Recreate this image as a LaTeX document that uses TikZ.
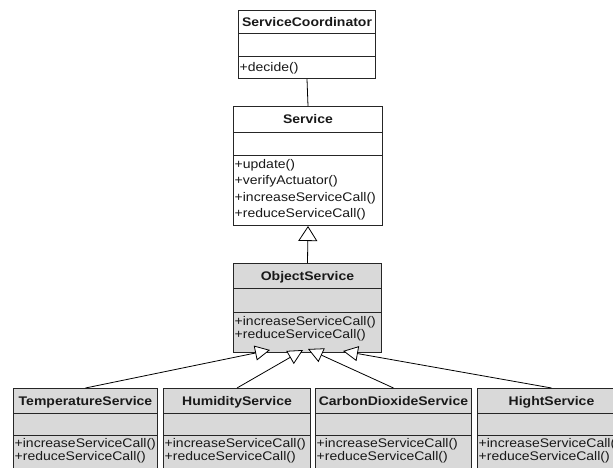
\documentclass[tikz,border=0pt]{standalone}
\usepackage{fontspec}
\setmainfont{Liberation Sans}[FakeStretch=1.12]
\usetikzlibrary{calc,arrows.meta}
\tikzset{
  classbox/.style={draw=black!85, line width=1pt, inner sep=0pt, rectangle},
  divider/.style={draw=black!85, line width=1pt},
  titletext/.style={font=\fontsize{12.5}{15}\selectfont\bfseries, inner sep=0pt, text=black!90},
  methodtext/.style={font=\fontsize{12.5}{15}\selectfont, inner sep=0pt, text=black!90},
  assoc/.style={draw=black, line width=0.8pt},
  gen/.style={draw=black, line width=0.8pt, -{Triangle[open, fill=white, length=15pt, width=15pt]}},
  genbig/.style={draw=black, line width=0.8pt, -{Triangle[open, fill=white, length=15pt, width=19pt]}},
  grayfill/.style={fill=black!15},
  whitefill/.style={fill=white},
}
% #1 name, #2 style, #3 north-west corner, #4 width, #5 height, #6 title, #7 methods
\newcommand\umlbox[7]{%
  \node[classbox,#2,minimum width=#4,minimum height=#5,anchor=north west] (#1) at (#3) {};
  \draw[divider] ($(#1.north west)+(0,\hA)$) -- ($(#1.north east)+(0,\hA)$);
  \draw[divider] ($(#1.north west)+(0,\hB)$) -- ($(#1.north east)+(0,\hB)$);
  \begin{scope}
    \clip (#1.north west) rectangle (#1.south east);
    \pgfmathsetmacro\ty{\hA/2+4.5}
    \node[titletext, anchor=base] (#1-t) at ($(#1.north)+(0,\ty)$) {#6};
    \foreach \m [count=\i] in {#7} {
      \pgfmathsetmacro\yy{\hB+\mfirst+(\i-1)*\pitch}
      \node[methodtext, anchor=base west] (#1-m\i) at ($(#1.north west)+(1.5,\yy)$) {\m};
    }
  \end{scope}
}
\begin{document}
\begin{tikzpicture}[x=1pt,y=-1pt]
\useasboundingbox (0,0) rectangle (613,468);
% ServiceCoordinator
\def\hA{24}\def\hB{47}\def\mfirst{15}\def\pitch{16}
\umlbox{sc}{whitefill}{238,10}{137pt}{68pt}{ServiceCoordinator}{+decide()}
% Service
\def\hA{27}\def\hB{50}\def\mfirst{12.5}\def\pitch{16.3}
\umlbox{svc}{whitefill}{233,106}{149pt}{119pt}{Service}{+update(),+verifyActuator(),+increaseServiceCall(),+reduceServiceCall()}
% ObjectService
\def\hA{25}\def\hB{49}\def\mfirst{13}\def\pitch{13.3}
\umlbox{obj}{grayfill}{233,263}{148pt}{89pt}{ObjectService}{+increaseServiceCall(),+reduceServiceCall()}
% Children
\def\hA{25}\def\hB{47}\def\mfirst{12}\def\pitch{13.3}
\umlbox{temp}{grayfill}{13,388}{144pt}{100pt}{TemperatureService}{+increaseServiceCall(),+reduceServiceCall()}
\umlbox{hum}{grayfill}{163,388}{147pt}{100pt}{HumidityService}{+increaseServiceCall(),+reduceServiceCall()}
\umlbox{co2}{grayfill}{315,388}{156pt}{100pt}{CarbonDioxideService}{+increaseServiceCall(),+reduceServiceCall()}
\umlbox{hight}{grayfill}{477,388}{148pt}{100pt}{HightService}{+increaseServiceCall(),+reduceServiceCall()}
% connectors
\draw[assoc] (sc.south) -- (svc.north);
\draw[genbig] (obj.north) -- (svc.south);
\coordinate (tT) at ($(obj.south west)+(37,-3)$);
\coordinate (tH) at ($(obj.south west)+(70,-3)$);
\coordinate (tC) at ($(obj.south west)+(75,-4)$);
\coordinate (tG) at ($(obj.south west)+(110,-2)$);
\draw[gen] (temp.north) -- (tT);
\draw[gen] (hum.north) -- (tH);
\draw[gen] (co2.north) -- (tC);
\draw[gen] (hight.north) -- (tG);
\end{tikzpicture}
\end{document}
